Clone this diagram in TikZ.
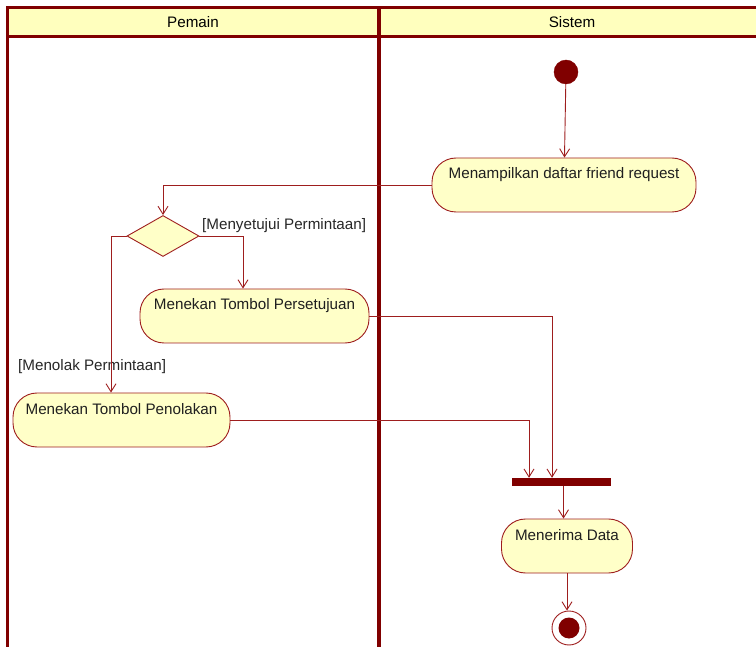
\documentclass[tikz,border=0pt]{standalone}
\usepackage{fontspec}
\setmainfont{Liberation Sans}
\usetikzlibrary{arrows.meta,shapes.geometric}
\definecolor{lanered}{RGB}{128,0,0}
\definecolor{edgered}{RGB}{158,30,30}
\definecolor{actfill}{RGB}{255,255,200}
\definecolor{headfill}{RGB}{255,255,190}

\begin{document}
\begin{tikzpicture}[x=1pt,y=-1pt,
  font=\fontsize{15.2}{17}\selectfont,
  action/.style={draw=edgered, fill=actfill, rounded corners=24pt,
    inner xsep=0pt, inner ysep=0pt, text height=21pt, text depth=33pt,
    line width=0.9pt, text=black!88},
  flow/.style={draw=edgered, line width=0.9pt,
    -{Straight Barb[length=8pt,width=10pt,line width=0.9pt]}},
  lane/.style={draw=lanered, line width=3pt},
  guard/.style={inner sep=0pt, anchor=west, text=black!85}]
\useasboundingbox (0,0) rectangle (756,647);

% swimlane frame
\fill[headfill] (7,8) rectangle (770,37);
\draw[lane] (770,8) -- (7,8) -- (7,660);
\draw[lane] (7,37) -- (770,37);
\draw[draw=lanered, line width=4.5pt] (379,8) -- (379,660);
\node (lanep) at (193,22) {Pemain};
\node (lanes) at (572,22) {Sistem};

% nodes
\node[circle, fill=lanered, draw=lanered, minimum size=24pt, inner sep=0pt] (init) at (566,72) {};
\node[action, minimum width=264pt] (act1) at (564,185) {Menampilkan daftar friend request};
\node[diamond, draw=edgered, fill=actfill, line width=0.9pt, minimum width=72pt,
      minimum height=41pt, inner sep=0pt] (dec) at (163,236) {};
\node[action, minimum width=229pt] (act2) at (254.5,316) {Menekan Tombol Persetujuan};
\node[action, minimum width=217pt] (act3) at (121.5,420) {Menekan Tombol Penolakan};
\node[rectangle, fill=lanered, minimum width=99pt, minimum height=8pt, inner sep=0pt] (bar) at (561.5,482) {};
\node[action, minimum width=131pt] (act4) at (567,546) {Menerima Data};
\node[circle, draw=edgered, fill=white, line width=0.9pt, minimum size=34pt, inner sep=0pt] (fin) at (569,628) {};
\node[circle, fill=lanered, minimum size=21pt, inner sep=0pt] (finin) at (fin) {};

% guards
\node[guard] (g1) at (202,226) {[Menyetujui Permintaan]};
\node[guard] (g2) at (18,367) {[Menolak Permintaan]};

% flows
\draw[flow] (init) -- (act1);
\draw[flow] (act1.west) -| (dec.north);
\draw[flow] (dec.east) -| ([xshift=-11.5pt]act2.north);
\draw[flow] (dec.west) -| ([xshift=-10.5pt]act3.north);
\draw[flow] (act2.east) -| ([xshift=-9.5pt]bar.north);
\draw[flow] (act3.east) -| ([xshift=-32.5pt]bar.north);
\draw[flow] ([xshift=2pt]bar.south) -- ([xshift=2pt]bar.south |- act4.north);
\draw[flow] (act4.south) -- (act4.south |- fin.north);
\end{tikzpicture}
\end{document}
